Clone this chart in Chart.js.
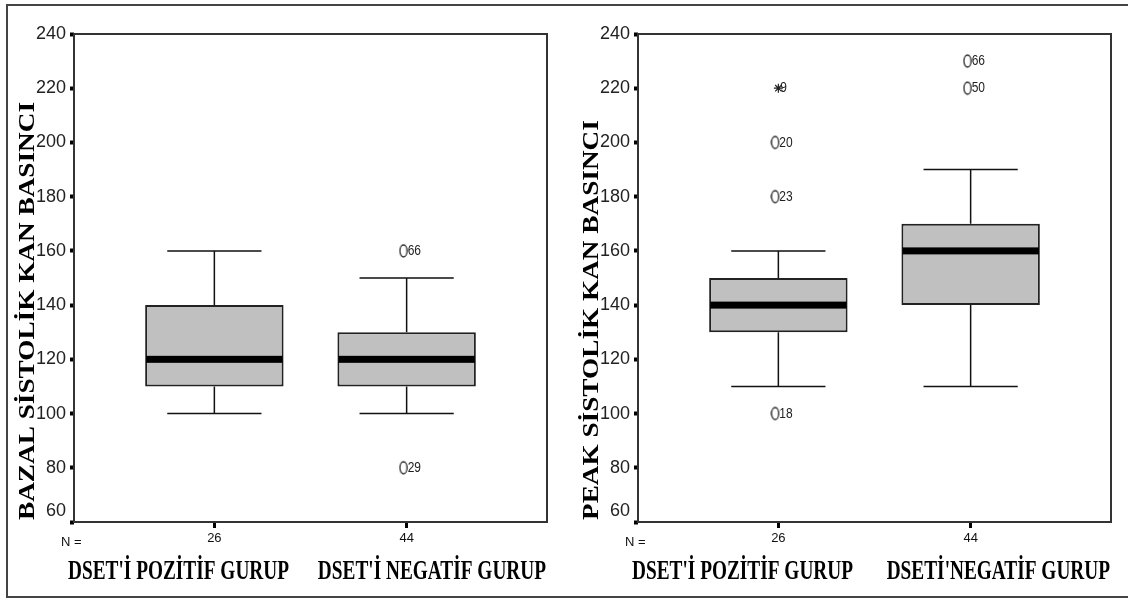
<!DOCTYPE html>
<html>
<head>
<meta charset="utf-8">
<script src="https://cdn.jsdelivr.net/npm/chart.js@4.4.1/dist/chart.umd.min.js"></script>
<style>
    html, body { margin: 0; padding: 0; background: #fff; }
    #wrap { position: relative; width: 1128px; height: 606px; overflow: hidden; }
    #frame { position: absolute; left: 6px; top: 4px; width: 1140px; height: 594px; border: 2px solid #444; box-sizing: border-box; }
    canvas { position: absolute; top: 0; }
</style>
</head>
<body>
<div id="wrap">
    <div id="frame"></div>
    <canvas id="bazalChart" width="564" height="606" style="left:0"></canvas>
    <canvas id="peakChart" width="564" height="606" style="left:564px"></canvas>
</div>
<script>
// Groups and counts
const bazalGroups = ["DSET'İ POZİTİF GURUP", "DSET'İ NEGATİF GURUP"];
const peakGroups = ["DSET'İ POZİTİF GURUP", "DSETİ'NEGATİF GURUP"];
const nCounts = [26, 44];

const bazalTitle = 'BAZAL SİSTOLİK KAN BASINCI';
const peakTitle = 'PEAK SİSTOLİK KAN BASINCI';

// Y axis range
const yMin = 60;
const yMax = 240;
const yStep = 20;

// Bazal systolic blood pressure
const bazalLow = [100, 100];
const bazalQ1 = [110, 110];
const bazalMedian = [120, 120];
const bazalQ3 = [140, 130];
const bazalHigh = [160, 150];
const bazalOutliers = [[], [160, 80]];
const bazalOutlierIds = [[], ['66', '29']];
const bazalExtremes = [[], []];
const bazalExtremeIds = [[], []];

// Peak systolic blood pressure
const peakLow = [110, 110];
const peakQ1 = [130, 140];
const peakMedian = [140, 160];
const peakQ3 = [150, 170];
const peakHigh = [160, 190];
const peakOutliers = [[200, 180, 100], [230, 220]];
const peakOutlierIds = [['20', '23', '18'], ['66', '50']];
const peakExtremes = [[220], []];
const peakExtremeIds = [['9'], []];

// hollow ellipse used as the outlier marker (sits a bit left of the centre like SPSS)
function makeEllipse() {
    const c = document.createElement('canvas');
    c.width = 16;
    c.height = 18;
    const g = c.getContext('2d');
    g.strokeStyle = '#222';
    g.lineWidth = 1.3;
    g.beginPath();
    g.ellipse(4.8, 9, 3.6, 6, 0, 0, Math.PI * 2);
    g.stroke();
    return c;
}
const ellipseImg = makeEllipse();

function toPoints(values, ids) {
    const pts = [];
    values.forEach(function(list, i) {
        list.forEach(function(v, j) {
            pts.push({ x: i + 1, y: v, id: ids[i][j] });
        });
    });
    return pts;
}

function makeBoxChart(canvasId, yTitle, groups, s) {
    const capHalf = 0.245; // whisker cap half width, in category units

    const boxPlugin = {
        id: 'boxParts',
        beforeDatasetsDraw(chart) {
            const ctx = chart.ctx;
            const x = chart.scales.x, y = chart.scales.y;
            ctx.save();
            ctx.strokeStyle = '#111';
            ctx.lineWidth = 1.5;
            groups.forEach(function(g, i) {
                const cx = x.getPixelForValue(i + 1);
                const l = x.getPixelForValue(i + 1 - capHalf);
                const r = x.getPixelForValue(i + 1 + capHalf);
                ctx.beginPath();
                // upper whisker
                ctx.moveTo(cx, y.getPixelForValue(s.q3[i]));
                ctx.lineTo(cx, y.getPixelForValue(s.high[i]));
                ctx.moveTo(l, y.getPixelForValue(s.high[i]));
                ctx.lineTo(r, y.getPixelForValue(s.high[i]));
                // lower whisker
                ctx.moveTo(cx, y.getPixelForValue(s.q1[i]));
                ctx.lineTo(cx, y.getPixelForValue(s.low[i]));
                ctx.moveTo(l, y.getPixelForValue(s.low[i]));
                ctx.lineTo(r, y.getPixelForValue(s.low[i]));
                ctx.stroke();
            });
            ctx.restore();
        },
        afterDatasetsDraw(chart) {
            const ctx = chart.ctx;
            const x = chart.scales.x, y = chart.scales.y;
            const bars = chart.getDatasetMeta(0).data;
            ctx.save();
            // medians
            ctx.fillStyle = '#000';
            groups.forEach(function(g, i) {
                const b = bars[i];
                const my = y.getPixelForValue(s.median[i]);
                ctx.fillRect(b.x - b.width / 2 + 1, my - 3.5, b.width - 2, 7);
            });
            // outlier case numbers
            ctx.font = '15px "Liberation Sans", Arial, sans-serif';
            ctx.fillStyle = '#222';
            ctx.textBaseline = 'middle';
            ctx.textAlign = 'left';
            const drawIds = function(pts, dx) {
                pts.forEach(function(p) {
                    ctx.save();
                    ctx.translate(x.getPixelForValue(p.x) + dx, y.getPixelForValue(p.y));
                    ctx.scale(0.8, 1);
                    ctx.fillText(p.id, 0, 0);
                    ctx.restore();
                });
            };
            drawIds(chart.data.datasets[1].data, 1);
            drawIds(chart.data.datasets[2].data, 2);
            // plot frame
            const a = chart.chartArea;
            ctx.strokeStyle = '#333';
            ctx.lineWidth = 2;
            ctx.strokeRect(a.left, a.top, a.right - a.left, a.bottom - a.top);
            ctx.restore();
        },
        afterDraw(chart) {
            const ctx = chart.ctx;
            const a = chart.chartArea;
            ctx.save();
            ctx.fillStyle = '#000';
            ctx.font = 'bold 27px "Liberation Serif", "Times New Roman", serif';
            ctx.textBaseline = 'alphabetic';

            // vertical axis title, stretched to the original length
            const lx = 418 / ctx.measureText(bazalTitle).width;
            ctx.save();
            ctx.translate(34, a.bottom - 2);
            ctx.rotate(-Math.PI / 2);
            ctx.scale(lx, 0.88);
            ctx.textAlign = 'left';
            ctx.fillText(yTitle, 0, 0);
            ctx.restore();

            // group names under the axis, squeezed like the original
            const sx = 221 / ctx.measureText(groups[0]).width;
            ctx.save();
            ctx.translate(a.left - 6, 579);
            ctx.scale(sx, 1);
            ctx.textAlign = 'left';
            ctx.fillText(groups[0], 0, 0);
            ctx.restore();
            ctx.save();
            ctx.translate(a.right - 1, 579);
            ctx.scale(sx, 1);
            ctx.textAlign = 'right';
            ctx.fillText(groups[1], 0, 0);
            ctx.restore();

            // "N =" in front of the counts
            ctx.font = '13px "Liberation Sans", Arial, sans-serif';
            ctx.fillStyle = '#111';
            ctx.textAlign = 'left';
            ctx.textBaseline = 'middle';
            ctx.fillText('N =', a.left - 13, 542);
            ctx.restore();
        }
    };

    return new Chart(document.getElementById(canvasId), {
        type: 'bar',
        data: {
            datasets: [{
                type: 'bar',
                data: groups.map(function(g, i) { return { x: i + 1, y: [s.q1[i], s.q3[i]] }; }),
                backgroundColor: '#c0c0c0',
                borderColor: '#222',
                borderWidth: 2,
                borderSkipped: false
            }, {
                type: 'scatter',
                data: toPoints(s.outliers, s.outlierIds),
                pointStyle: ellipseImg
            }, {
                type: 'scatter',
                data: toPoints(s.extremes, s.extremeIds),
                pointStyle: 'star',
                radius: 4.5,
                borderColor: '#222',
                borderWidth: 1.2
            }]
        },
        options: {
            responsive: false,
            animation: false,
            layout: { padding: { left: 0, top: 34, right: 17, bottom: 54 } },
            plugins: {
                legend: { display: false },
                tooltip: { enabled: false }
            },
            scales: {
                x: {
                    type: 'linear',
                    min: 0.27,
                    max: 2.73,
                    offset: false,
                    afterBuildTicks: function(scale) {
                        scale.ticks = groups.map(function(g, i) { return { value: i + 1 }; });
                    },
                    afterFit: function(scale) { scale.height = 30; },
                    border: { display: false },
                    grid: {
                        offset: false,
                        drawOnChartArea: false,
                        tickLength: 6,
                        tickWidth: 3,
                        tickColor: '#000'
                    },
                    ticks: {
                        autoSkip: false,
                        maxRotation: 0,
                        padding: 3,
                        color: '#111',
                        font: { family: '"Liberation Sans", Arial, sans-serif', size: 13 },
                        callback: function(v) { return String(nCounts[v - 1]); }
                    }
                },
                y: {
                    min: yMin,
                    max: yMax,
                    afterFit: function(scale) { scale.width = 74; },
                    border: { display: false },
                    grid: {
                        drawOnChartArea: false,
                        tickLength: 4,
                        tickWidth: 4,
                        tickColor: '#000'
                    },
                    ticks: {
                        stepSize: yStep,
                        padding: 4,
                        color: '#222',
                        font: { family: '"Liberation Sans", Arial, sans-serif', size: 18 },
                        callback: function(v) { return v === yMin ? [String(v), ''] : String(v); }
                    }
                }
            }
        },
        plugins: [boxPlugin]
    });
}

makeBoxChart('bazalChart', bazalTitle, bazalGroups, {
    low: bazalLow, q1: bazalQ1, median: bazalMedian, q3: bazalQ3, high: bazalHigh,
    outliers: bazalOutliers, outlierIds: bazalOutlierIds,
    extremes: bazalExtremes, extremeIds: bazalExtremeIds
});

makeBoxChart('peakChart', peakTitle, peakGroups, {
    low: peakLow, q1: peakQ1, median: peakMedian, q3: peakQ3, high: peakHigh,
    outliers: peakOutliers, outlierIds: peakOutlierIds,
    extremes: peakExtremes, extremeIds: peakExtremeIds
});
</script>
</body>
</html>
